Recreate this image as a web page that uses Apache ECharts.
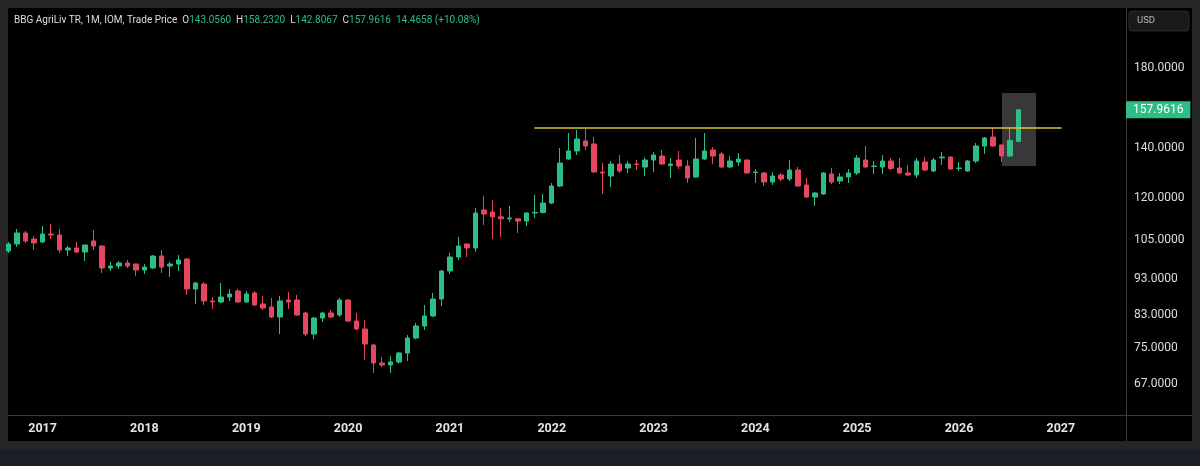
<!DOCTYPE html>
<html><head><meta charset="utf-8">
<script src="https://cdn.jsdelivr.net/npm/echarts@6/dist/echarts.min.js"></script>
<style>html,body{margin:0;padding:0;background:#262626;}#c{width:1200px;height:466px;}</style>
</head><body><div id="c"></div>
<script>
const months = [
 '2016-09','2016-10','2016-11','2016-12',
 '2017-01','2017-02','2017-03','2017-04','2017-05','2017-06','2017-07','2017-08','2017-09','2017-10','2017-11','2017-12',
 '2018-01','2018-02','2018-03','2018-04','2018-05','2018-06','2018-07','2018-08','2018-09','2018-10','2018-11','2018-12',
 '2019-01','2019-02','2019-03','2019-04','2019-05','2019-06','2019-07','2019-08','2019-09','2019-10','2019-11','2019-12',
 '2020-01','2020-02','2020-03','2020-04','2020-05','2020-06','2020-07','2020-08','2020-09','2020-10','2020-11','2020-12',
 '2021-01','2021-02','2021-03','2021-04','2021-05','2021-06','2021-07','2021-08','2021-09','2021-10','2021-11','2021-12',
 '2022-01','2022-02','2022-03','2022-04','2022-05','2022-06','2022-07','2022-08','2022-09','2022-10','2022-11','2022-12',
 '2023-01','2023-02','2023-03','2023-04','2023-05','2023-06','2023-07','2023-08','2023-09','2023-10','2023-11','2023-12',
 '2024-01','2024-02','2024-03','2024-04','2024-05','2024-06','2024-07','2024-08','2024-09','2024-10','2024-11','2024-12',
 '2025-01','2025-02','2025-03','2025-04','2025-05','2025-06','2025-07','2025-08','2025-09','2025-10','2025-11','2025-12',
 '2026-01','2026-02','2026-03','2026-04','2026-05','2026-06','2026-07','2026-08'
];
const opens = [
 101.55,103.80,107.44,105.44,
 104.45,107.10,106.77,101.87,102.51,101.24,104.78,103.15,96.29,96.89,97.81,97.50,
 95.69,96.29,99.97,96.89,97.50,99.04,90.17,91.58,86.85,86.58,87.94,89.61,
 86.58,89.05,86.04,85.24,82.61,87.12,87.12,83.65,78.33,82.35,83.65,83.13,
 87.12,81.58,79.56,75.68,71.54,71.09,71.76,73.81,77.35,80.31,82.87,87.39,
 95.39,99.66,103.80,102.51,115.45,114.72,113.00,112.30,112.30,111.54,114.37,114.55,
 118.00,124.45,135.41,138.84,143.25,141.91,130.01,128.40,133.31,131.65,133.31,132.06,
 134.98,136.67,132.70,134.98,132.47,128.00,135.41,139.28,137.55,132.06,134.14,134.98,
 129.81,129.61,126.01,128.80,127.20,130.83,124.84,120.24,121.37,129.20,126.40,128.00,
 129.61,134.98,132.26,132.06,134.56,131.65,129.61,128.80,134.14,130.42,135.90,136.25,
 131.45,130.42,134.56,141.03,145.05,141.47,136.67,143.0560
];
const closes = [
 103.80,107.44,104.78,104.13,
 107.10,106.77,101.87,102.51,101.24,103.48,103.15,96.29,96.89,97.81,96.89,95.69,
 96.59,99.97,96.59,97.50,98.73,90.17,91.88,86.85,86.58,87.94,88.77,86.58,
 88.77,85.77,84.97,82.61,86.85,86.58,83.13,78.33,82.35,83.65,82.61,87.12,
 81.58,79.56,75.91,71.54,71.09,71.76,73.81,77.35,80.31,82.87,87.39,95.39,
 99.66,103.15,102.51,114.37,114.01,113.00,112.30,112.60,111.54,114.37,114.55,118.00,
 124.45,133.72,138.84,144.15,141.03,130.01,129.61,133.31,130.42,133.31,133.10,134.98,
 137.12,133.31,133.31,132.47,127.60,135.41,138.84,136.67,132.06,134.56,135.41,129.61,
 130.01,126.01,128.40,127.20,130.83,124.45,120.24,121.75,129.61,126.01,128.00,129.61,
 135.83,132.06,132.47,134.56,131.45,129.61,128.80,134.56,130.83,134.98,136.25,131.24,
 131.65,134.56,141.03,144.60,141.03,136.67,143.4958,157.9616
];
const lows = [
 100.92,102.83,104.13,101.87,
 104.13,105.44,100.92,99.98,100.92,98.43,101.87,94.80,95.39,95.99,96.29,93.91,
 94.50,95.99,94.80,93.62,95.39,88.49,86.04,85.77,84.70,86.30,86.85,86.30,
 86.30,85.50,84.44,82.35,78.33,84.70,82.90,77.84,77.11,81.34,82.40,82.61,
 81.30,79.30,72.21,69.34,70.65,69.34,71.40,71.98,77.00,79.31,82.61,85.50,
 94.50,98.73,99.66,101.24,110.16,105.44,106.10,111.25,107.44,109.81,112.65,114.20,
 117.62,124.00,135.00,137.12,139.28,129.70,121.37,124.06,129.61,129.61,130.83,128.40,
 130.01,133.00,127.60,131.24,125.62,127.70,135.00,133.31,131.65,131.65,132.47,129.40,
 125.62,124.45,124.84,126.40,126.40,124.20,119.86,116.90,121.00,125.22,125.22,125.62,
 128.80,131.80,129.20,129.20,130.83,129.30,128.40,127.60,130.50,130.01,132.89,131.00,
 130.42,130.20,133.72,137.55,140.80,134.14,136.30,142.8067
];
const highs = [
 104.45,108.79,108.11,106.43,
 109.81,110.50,108.79,103.15,104.45,103.60,108.45,103.40,98.11,98.42,98.73,97.60,
 97.50,100.28,101.87,98.11,100.28,99.30,92.20,92.16,87.94,91.88,90.17,90.17,
 89.61,89.61,88.22,87.67,88.22,89.33,88.49,83.90,82.60,84.00,84.44,87.67,
 87.39,83.65,81.84,75.90,72.89,73.12,74.10,78.08,81.08,85.77,89.05,95.70,
 100.92,106.10,104.00,116.17,120.61,119.11,116.17,116.90,112.60,114.60,121.00,121.37,
 125.62,140.15,146.89,148.27,148.73,145.05,133.72,134.56,137.12,134.56,134.98,136.08,
 138.41,139.28,135.83,138.84,134.98,144.60,146.89,140.59,138.41,136.67,137.98,135.20,
 131.24,130.01,130.01,129.61,134.98,132.06,127.60,122.13,130.01,131.65,129.61,131.24,
 137.12,141.03,134.56,137.12,135.83,135.83,132.89,135.83,136.25,135.83,138.41,136.50,
 134.14,134.98,142.36,145.05,149.20,141.80,149.20,158.2320
];
const priceTicks = [67, 75, 83, 93, 105, 120, 140, 180];
const yearTicks = [2017, 2018, 2019, 2020, 2021, 2022, 2023, 2024, 2025, 2026, 2027];
const resistance = { level: 149.4, from: '2021-11', to: '2027-01' };
const highlight = { from: '2026-06', to: '2026-10', low: 132.5, high: 166.5 };

const UP = '#2ebd85', DOWN = '#e5475f', FONT = 'Roboto, "Noto Sans", sans-serif';
const idx = s => { const [y, m] = s.split('-').map(Number); return (y - 2017) * 12 + (m - 1); };
const candles = months.map((m, i) => [idx(m), opens[i], closes[i], lows[i], highs[i]]);
const n = months.length - 1;
const lastClose = closes[n];
const chg = closes[n] - closes[n - 1];
const pct = chg / closes[n - 1] * 100;
const f4 = v => v.toFixed(4);

const chart = echarts.init(document.getElementById('c'));
chart.setOption({
  animation: false,
  backgroundColor: '#262626',
  graphic: [
    { type: 'rect', z: -10, shape: { x: 8, y: 8, width: 1184, height: 433 }, style: { fill: '#000' } },
    { type: 'rect', z: -10, shape: { x: 0, y: 450, width: 1200, height: 16 }, style: { fill: '#1b1e29' } },
    { type: 'line', z: -5, shape: { x1: 1126.5, y1: 8, x2: 1126.5, y2: 441 }, style: { stroke: '#3b3b3b', lineWidth: 1 } },
    { type: 'line', z: -5, shape: { x1: 8, y1: 415.5, x2: 1192, y2: 415.5 }, style: { stroke: '#3b3b3b', lineWidth: 1 } },
    { type: 'rect', z: 5, shape: { x: 1129, y: 11, width: 60, height: 20, r: 3 }, style: { fill: '#1a1a1a', stroke: '#2a2a2a' } },
    { type: 'text', z: 6, x: 1137, y: 21, style: { text: 'USD', fill: '#b8b8b8', font: '9.5px ' + FONT, verticalAlign: 'middle' } }
  ],
  title: {
    left: 14, top: 15, padding: 0,
    text: 'BBG AgriLiv TR, 1M, IOM, Trade Price  O{g|' + f4(opens[n]) + '}  H{g|' + f4(highs[n]) +
          '}  L{g|' + f4(lows[n]) + '}  C{g|' + f4(closes[n]) + '}  {g|' + f4(chg) + ' (+' + pct.toFixed(2) + '%)}',
    textStyle: {
      color: '#dcdcdc', fontSize: 10, fontWeight: 'normal', fontFamily: FONT,
      rich: { g: { color: UP, fontSize: 10, fontFamily: FONT } }
    }
  },
  grid: { left: 8, right: 74, top: 8, bottom: 51 },
  xAxis: {
    type: 'value', min: -4.08, max: 127.68,
    splitLine: { show: false }, axisLine: { show: false }, axisTick: { show: false },
    axisLabel: {
      customValues: yearTicks.map(y => (y - 2017) * 12),
      formatter: v => String(2017 + Math.round(v / 12)),
      color: '#e4e4e4', fontSize: 12.5, fontWeight: 'bold', fontFamily: FONT, margin: 7
    }
  },
  yAxis: {
    type: 'log', position: 'right', min: 60.8, max: 217.16,
    splitLine: { show: false }, axisLine: { show: false }, axisTick: { show: false },
    axisLabel: {
      customValues: priceTicks,
      formatter: v => Number(v).toFixed(4),
      color: '#dedede', fontSize: 12, fontFamily: FONT, margin: 8, padding: [4, 0, 0, 0]
    }
  },
  series: [{
    type: 'candlestick',
    data: candles,
    encode: { x: 0, y: [1, 2, 3, 4] },
    barWidth: 5,
    clip: true,
    itemStyle: { color: UP, color0: DOWN, borderColor: UP, borderColor0: DOWN, borderWidth: 1 },
    markArea: {
      silent: true,
      itemStyle: { color: 'rgba(255,255,255,0.22)' },
      data: [[
        { coord: [idx(highlight.from) + 0.07, highlight.high] },
        { coord: [idx(highlight.to) + 0.08, highlight.low] }
      ]]
    },
    markLine: {
      silent: true, symbol: 'none',
      data: [
        [
          { coord: [idx(resistance.from) - 0.05, resistance.level], lineStyle: { color: '#d8c334', width: 1.6, type: 'solid' }, label: { show: false } },
          { coord: [idx(resistance.to) + 0.1, resistance.level] }
        ],
        {
          yAxis: lastClose,
          lineStyle: { color: 'rgba(0,0,0,0)', width: 0 },
          label: {
            show: true, position: 'end', distance: 0, opacity: 1,
            formatter: () => f4(lastClose),
            backgroundColor: UP, color: '#ffffff',
            padding: [3, 7, 2, 7], fontSize: 12, fontFamily: FONT
          }
        }
      ]
    }
  }]
});
</script></body></html>
